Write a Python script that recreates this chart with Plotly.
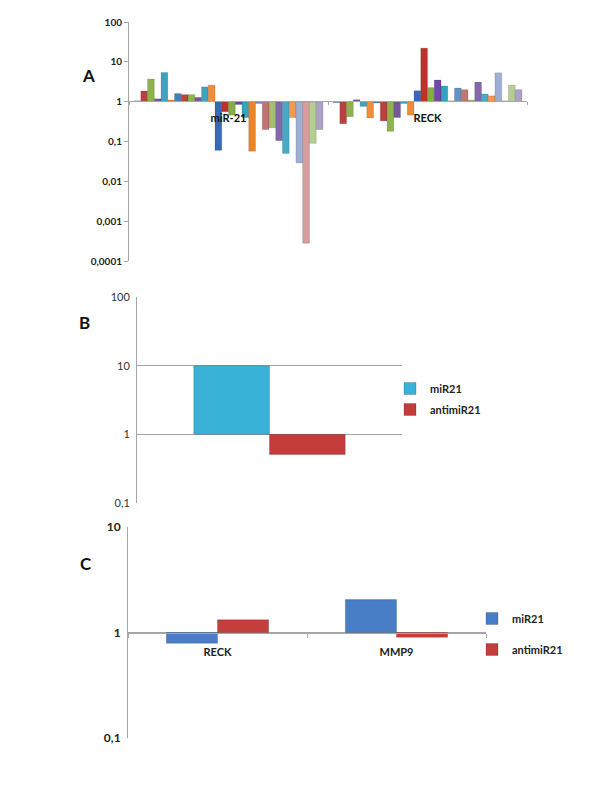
import plotly.graph_objects as go

# ---------------- data ----------------
A_categories = ["miR-21", "RECK"]
A_mir21 = [1.05, 1.85, 3.7, 1.18, 5.4, 1.1, 1.6, 1.5, 1.5, 1.28, 2.35, 2.6,
           0.06, 0.56, 0.46, 0.85, 0.4, 0.057, 0.9, 0.2, 0.22, 0.105, 0.05, 0.4,
           0.029, 0.00028, 0.09, 0.2]
A_reck = [0.95, 0.28, 0.42, 1.12, 0.76, 0.39, 0.93, 0.33, 0.18, 0.4, 0.9, 0.46,
          1.88, 22, 2.25, 3.5, 2.47, 1.05, 2.2, 2.0, 1.1, 3.1, 1.56, 1.4,
          5.3, 1.05, 2.6, 2.0]
A_colors = ["#4a7cba", "#b8423f", "#8fb24c", "#76589a", "#3fa3bf", "#f38c38",
            "#4a7cba", "#b8423f", "#8fb24c", "#76589a", "#3fa3bf", "#f38c38",
            "#3868b8", "#c0302c", "#86ae42", "#7048a8", "#38a0c0", "#ec8428",
            "#6890c6", "#c07474", "#a2c270", "#8468ac", "#4aaac6", "#f29a50",
            "#9cb0d4", "#d89c9c", "#b6cd92", "#aca2c8"]

B_category = ["B"]
B_series = ["miR21", "antimiR21"]
B_values = [10.0, 0.51]
B_colors = ["#38b2d6", "#c43c39"]

C_categories = ["RECK", "MMP9"]
C_series = ["miR21", "antimiR21"]
C_mir21 = [0.79, 2.05]
C_antimir21 = [1.32, 0.9]
C_colors = ["#477ec6", "#c43f3c"]

A_tickvals = [0.0001, 0.001, 0.01, 0.1, 1, 10, 100]
A_ticktext = ["0,0001", "0,001", "0,01", "0,1", "1", "10", "100"]
B_tickvals = [0.1, 1, 10, 100]
B_ticktext = ["0,1", "1", "10", "100"]
C_tickvals = [0.1, 1, 10]
C_ticktext = ["0,1", "1", "10"]

FONT = "Lato, 'Open Sans', Arial, sans-serif"
W, H = 600, 800
OFF = 8  # page body margin


def px(v):
    return (v - OFF) / W


def py(v):
    return 1 - (v - OFF) / H


fig = go.Figure()

# ---------------- panel A ----------------
nA = len(A_mir21)
wA = 1 / (nA + 1.5)
for i in range(nA):
    vals = [A_mir21[i], A_reck[i]]
    fig.add_trace(go.Bar(
        x=A_categories, y=[v - 1 for v in vals], base=[1, 1],
        width=wA, offset=-nA / 2 * wA + i * wA,
        marker=dict(color=A_colors[i], line=dict(color="rgba(0,0,0,0.25)", width=0.5)),
        xaxis="x", yaxis="y", showlegend=False, name="s%d" % (i + 1),
    ))

# ---------------- panel B ----------------
wB = 1 / 3.5
for i, (nm, v) in enumerate(zip(B_series, B_values)):
    fig.add_trace(go.Bar(
        x=B_category, y=[v - 1], base=[1], width=wB, offset=-wB + i * wB,
        marker=dict(color=B_colors[i], line=dict(color="rgba(0,0,0,0.3)", width=0.6)),
        xaxis="x2", yaxis="y2", name=nm, legend="legend", legendgroup="b%d" % i,
    ))

# ---------------- panel C ----------------
wC = 1 / 3.5
for i, (nm, vals) in enumerate(zip(C_series, [C_mir21, C_antimir21])):
    fig.add_trace(go.Bar(
        x=C_categories, y=[v - 1 for v in vals], base=[1, 1], width=wC, offset=-wC + i * wC,
        marker=dict(color=C_colors[i], line=dict(color="rgba(0,0,0,0.3)", width=0.6)),
        xaxis="x3", yaxis="y3", name=nm, legend="legend2", legendgroup="c%d" % i,
    ))

axcol = "#a6a6a6"
fig.update_layout(
    width=W, height=H, margin=dict(l=0, r=0, t=0, b=0, autoexpand=False),
    paper_bgcolor="white", plot_bgcolor="white",
    barmode="overlay",
    font=dict(family=FONT, color="#222"),
    # A
    xaxis=dict(domain=[px(129), px(527)], anchor="free", position=py(101),
               type="category", range=[-0.5, 1.5], showline=True, linecolor=axcol,
               linewidth=1, tickson="boundaries", ticks="outside", ticklen=3,
               tickcolor=axcol, showgrid=False, automargin=False, ticklabelstandoff=7,
               tickfont=dict(family=FONT, size=11, color="#111", weight="bold")),
    yaxis=dict(domain=[py(261), py(22)], anchor="x", type="log", range=[-4, 2],
               tickvals=A_tickvals, ticktext=A_ticktext, showline=True,
               linecolor=axcol, ticks="outside", ticklen=4, tickcolor=axcol,
               showgrid=False, zeroline=False, automargin=False,
               tickfont=dict(family=FONT, size=10, color="#222", weight="bold")),
    # B
    xaxis2=dict(domain=[px(137), px(402)], anchor="y2", type="category",
                range=[-0.5, 0.5], showline=False, showticklabels=False,
                showgrid=False, ticks="", automargin=False),
    yaxis2=dict(domain=[py(503), py(297)], anchor="x2", type="log", range=[-1, 2],
                tickvals=B_tickvals, ticktext=B_ticktext, showline=True,
                linecolor=axcol, showgrid=True, gridcolor=axcol, ticks="",
                zeroline=False, automargin=False, ticklabelstandoff=4,
                tickfont=dict(family=FONT, size=11, color="#333")),
    # C
    xaxis3=dict(domain=[px(128), px(486)], anchor="free", position=py(633),
                type="category", range=[-0.5, 1.5], showline=True, linecolor=axcol,
                tickson="boundaries", ticks="outside", ticklen=4, tickcolor=axcol,
                showgrid=False, automargin=False, ticklabelstandoff=9,
                tickfont=dict(family=FONT, size=11, color="#222", weight="bold")),
    yaxis3=dict(domain=[py(738), py(527)], anchor="x3", type="log", range=[-1, 1],
                tickvals=C_tickvals, ticktext=C_ticktext, showline=True,
                linecolor=axcol, showgrid=True, gridcolor=axcol, ticks="",
                zeroline=False, automargin=False, ticklabelstandoff=4,
                tickfont=dict(family=FONT, size=12, color="#222", weight="bold")),
    legend=dict(x=px(390), y=py(374), xanchor="left", yanchor="top",
                font=dict(family=FONT, size=11, color="#222", weight="bold"),
                bgcolor="rgba(0,0,0,0)", tracegroupgap=2, itemwidth=30),
    legend2=dict(x=px(472), y=py(604), xanchor="left", yanchor="top",
                 font=dict(family=FONT, size=11, color="#222", weight="bold"),
                 bgcolor="rgba(0,0,0,0)", tracegroupgap=12, itemwidth=30),
    annotations=[
        dict(text="A", x=px(80), y=py(63), xref="paper", yref="paper", showarrow=False,
             font=dict(family=FONT, size=17, color="#111", weight="bold")),
        dict(text="B", x=px(77), y=py(322), xref="paper", yref="paper", showarrow=False,
             font=dict(family=FONT, size=17, color="#111", weight="bold")),
        dict(text="C", x=px(78), y=py(576), xref="paper", yref="paper", showarrow=False,
             font=dict(family=FONT, size=17, color="#111", weight="bold")),
    ],
)

fig.write_html("out.html")
